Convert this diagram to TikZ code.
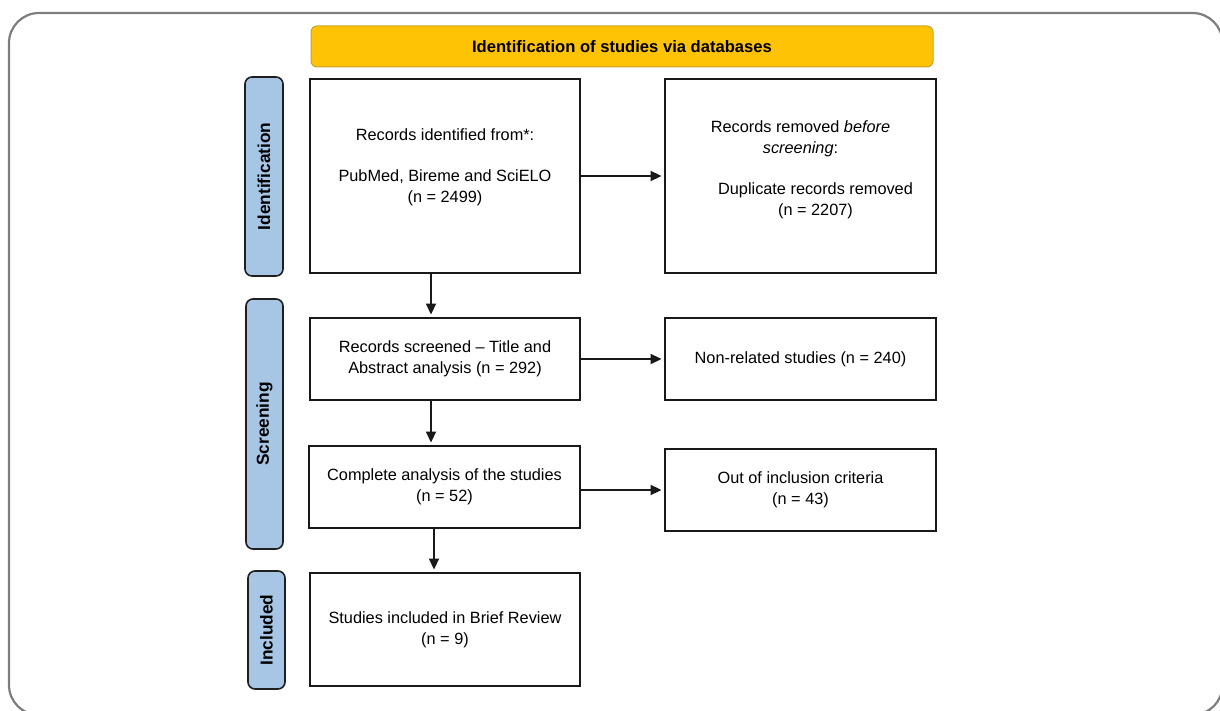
\documentclass[tikz,border=0pt]{standalone}
\usepackage{fontspec}
\setmainfont{Liberation Sans}
\usetikzlibrary{arrows.meta}
\definecolor{bannerfill}{HTML}{FFC305}
\definecolor{bannerdraw}{HTML}{C9A12A}
\definecolor{phasefill}{HTML}{A7C6E6}
\definecolor{framegray}{HTML}{7E7E7E}
\begin{document}
\begin{tikzpicture}[x=1pt,y=-1pt,
  stagebox/.style={draw=black!90, line width=1.9pt, fill=white, align=center, inner sep=0pt,
    font=\fontsize{16.3}{20.7}\selectfont},
  phase/.style={draw=black!88, line width=1.6pt, fill=phasefill, rounded corners=7pt, rotate=90,
    inner sep=0pt, font=\bfseries\fontsize{17.3}{20}\selectfont},
  banner/.style={draw=bannerdraw, line width=1pt, fill=bannerfill, rounded corners=6pt,
    inner sep=0pt, font=\bfseries\fontsize{16.6}{20}\selectfont},
  flow/.style={draw=black!90, line width=1.8pt, shorten >=2.5pt, -{Triangle[length=11pt,width=10pt]}}]
\useasboundingbox (0,0) rectangle (1220,711);
\begin{scope}
\clip (0,0) rectangle (1220,711);
\draw[framegray, line width=2.2pt, rounded corners=30pt] (9,13) rectangle (1222.5,715);
\end{scope}

\node[banner, minimum width=622pt, minimum height=41pt] (head) at (622,46.5) {Identification of studies via databases};

\node[phase, minimum width=199pt, minimum height=38pt] (pid) at (264,176.5) {Identification};
\node[phase, minimum width=250pt, minimum height=37pt] (pscr) at (264.5,424) {Screening};
\node[phase, minimum width=118pt, minimum height=37pt] (pinc) at (266.5,630) {Included};

\node[stagebox, minimum width=270pt, minimum height=194pt] (b1) at (445,176)
  {Records identified from*:\\[20.7pt]PubMed, Bireme and SciELO\\(n = 2499)\\ \mbox{}};
\node[stagebox, minimum width=271pt, minimum height=194pt] (b2) at (800.5,176)
  {Records removed \textit{before}\\\textit{screening}:\\[20.7pt]\hspace*{30pt}Duplicate records removed\\\hspace*{30pt}(n = 2207)\\[-5pt]\mbox{}};
\node[stagebox, minimum width=270pt, minimum height=82pt] (b3) at (445,359)
  {Records screened -- Title and\\Abstract analysis (n = 292)};
\node[stagebox, minimum width=271pt, minimum height=82pt] (b4) at (444.5,487)
  {Complete analysis of the studies\\(n = 52)};
\node[stagebox, minimum width=270pt, minimum height=113pt] (b5) at (445,629.5)
  {Studies included in Brief Review\\(n = 9)};
\node[stagebox, minimum width=271pt, minimum height=82pt] (b6) at (800.5,359)
  {Non-related studies (n = 240)};
\node[stagebox, minimum width=271pt, minimum height=82pt] (b7) at (800.5,490)
  {Out of inclusion criteria\\(n = 43)};

\draw[flow] (b1.east) -- (b2.west);
\draw[flow] ([xshift=-14pt]b1.south) -- ([xshift=-14pt]b1.south |- b3.north);
\draw[flow] ([xshift=-14pt]b3.south) -- ([xshift=-14pt]b3.south |- b4.north);
\draw[flow] ([xshift=-10.5pt]b4.south) -- ([xshift=-10.5pt]b4.south |- b5.north);
\draw[flow] (b3.east) -- (b6.west);
\draw[flow] (b7.west -| b4.east) -- (b7.west);
\end{tikzpicture}
\end{document}
